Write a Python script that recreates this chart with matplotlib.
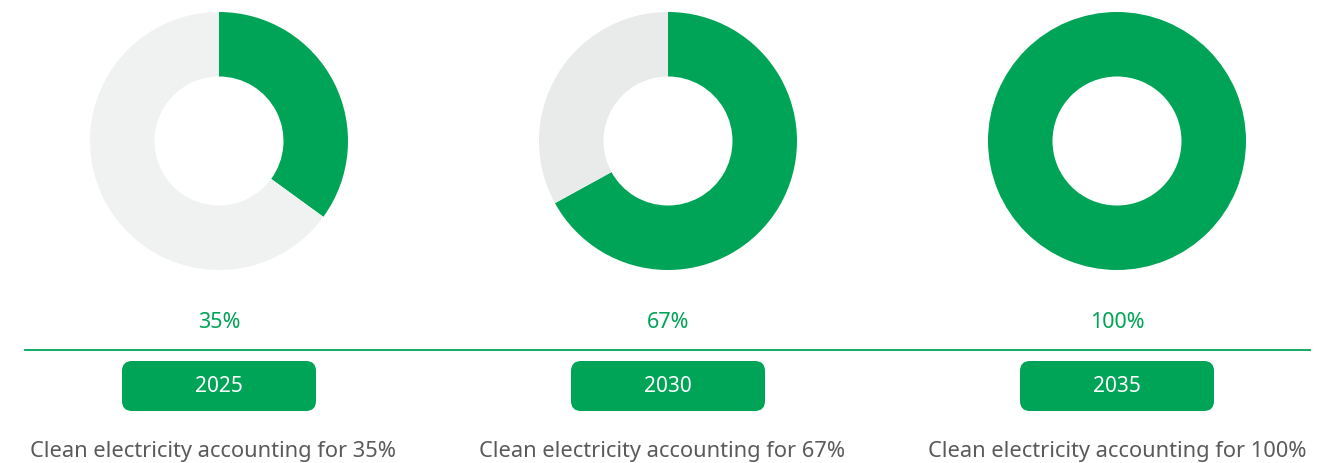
import matplotlib
matplotlib.use("Agg")
import matplotlib.pyplot as plt
from matplotlib.patches import FancyBboxPatch

# data
years = ["2025", "2030", "2035"]
shares = [35, 67, 100]
pct_labels = ["35%", "67%", "100%"]
captions = ["Clean electricity accounting for 35%",
            "Clean electricity accounting for 67%",
            "Clean electricity accounting for 100%"]

GREEN = "#00A457"
REST = ["#F0F1F1", "#E9EAEA", "#E9EAEA"]
W, H = 1319, 463

plt.rcParams['font.family'] = ['Noto Sans', 'DejaVu Sans']

fig = plt.figure(figsize=(W / 100, H / 100), dpi=100)
fig.patch.set_facecolor("white")

# overlay axes in pixel coordinates for text, line and boxes
base = fig.add_axes([0, 0, 1, 1])
base.set_xlim(0, W)
base.set_ylim(H, 0)
base.axis("off")

centers_x = [219, 668, 1117]
cy = 141
r = 129

for i, (cx, share) in enumerate(zip(centers_x, shares)):
    ax = fig.add_axes([(cx - r) / W, (H - cy - r) / H, 2 * r / W, 2 * r / H])
    ax.pie([share, 100 - share], colors=[GREEN, REST[i]], startangle=90,
           counterclock=False, radius=1,
           wedgeprops=dict(width=0.5, linewidth=0))
    ax.set_xlim(-1, 1)
    ax.set_ylim(-1, 1)
    ax.set_aspect("equal")
    ax.axis("off")

    base.text(cx, 323, pct_labels[i], color=GREEN, fontsize=15.5,
              ha="center", va="center")

    box = FancyBboxPatch((cx - 97 + 10, 361 + 10), 194 - 20, 50 - 20,
                         boxstyle="round,pad=10", facecolor=GREEN,
                         edgecolor="none")
    base.add_patch(box)
    base.text(cx, 386, years[i], color="white", fontsize=15,
              ha="center", va="center")

    # captions are left aligned under each column
    base.text(cx - 189, 451, captions[i], color="#5A5A5A", fontsize=15.7,
              ha="left", va="center")

base.plot([25, 1310], [350, 350], color=GREEN, lw=1.3)

fig.savefig("out.png", dpi=100)
